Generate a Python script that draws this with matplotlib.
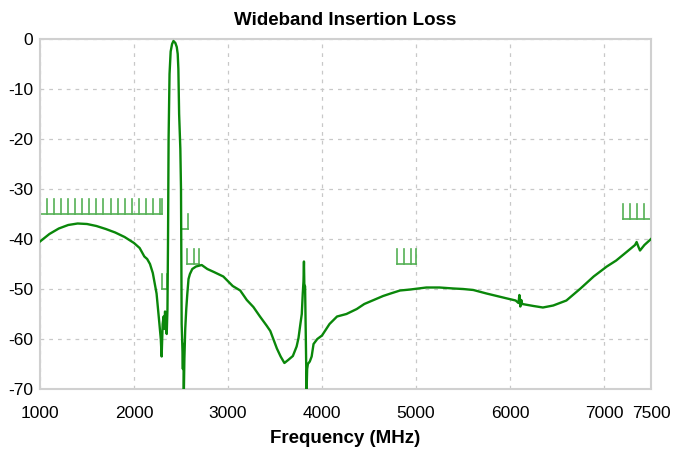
import numpy as np
import matplotlib
matplotlib.use("Agg")
import matplotlib.pyplot as plt

plt.rcParams['font.family'] = ['Liberation Sans', 'DejaVu Sans']
plt.rcParams['axes.unicode_minus'] = False

# измеренная кривая (МГц, дБ)
freq = [1000, 1100, 1200, 1300, 1400, 1500, 1600, 1700, 1800, 1900,
        2000, 2060, 2110, 2140, 2170, 2200, 2240, 2270, 2285, 2294,
        2305, 2315, 2322, 2330, 2340, 2348, 2356, 2362, 2368, 2378,
        2390, 2405, 2420, 2440, 2455, 2465, 2472, 2480, 2493, 2500,
        2507, 2515, 2520, 2525, 2530, 2536, 2545, 2556, 2567, 2580,
        2595, 2620, 2660, 2720, 2780, 2850, 2950, 3050, 3130, 3200,
        3270, 3340, 3410, 3450, 3520, 3560, 3600, 3640, 3690, 3730,
        3750, 3770, 3785, 3795, 3803, 3808, 3812, 3820, 3828, 3836,
        3842, 3850, 3870, 3890, 3910, 3950, 4000, 4080, 4160, 4260,
        4370, 4450, 4550, 4650, 4730, 4830, 4940, 5110, 5250, 5400,
        5500, 5610, 5750, 5860, 5970, 6060, 6090, 6100, 6110, 6120,
        6130, 6250, 6350, 6460, 6600, 6750, 6890, 7030, 7130, 7240,
        7330, 7347, 7365, 7383, 7430, 7500]
loss = [-40.5, -39.0, -37.9, -37.2, -36.9, -37.0, -37.4, -38.0, -38.7, -39.6,
        -40.8, -41.8, -43.5, -44.0, -45.0, -46.8, -50.9, -56.9, -60.0, -63.5,
        -57.0, -55.5, -58.0, -54.5, -56.0, -59.0, -54.0, -40.0, -20.0, -7.0,
        -2.5, -1.0, -0.4, -0.8, -1.6, -3.0, -6.0, -15.0, -22.0, -30.0,
        -57.0, -62.0, -66.0, -61.0, -71.0, -64.0, -58.0, -54.0, -51.0, -48.0,
        -47.0, -46.0, -45.5, -45.2, -46.0, -46.6, -47.5, -49.4, -50.3, -52.2,
        -53.6, -55.5, -57.3, -58.4, -61.9, -63.5, -64.8, -64.2, -63.4, -61.5,
        -59.8, -57.0, -55.0, -51.0, -48.5, -44.5, -49.0, -49.5, -60.0, -70.5,
        -66.0, -65.0, -64.5, -63.5, -61.0, -60.0, -59.3, -57.0, -55.5, -55.0,
        -54.0, -53.0, -52.2, -51.4, -50.9, -50.3, -50.1, -49.7, -49.7, -49.9,
        -50.0, -50.2, -50.9, -51.4, -51.9, -52.3, -52.8, -51.2, -53.5, -52.2,
        -53.0, -53.4, -53.7, -53.3, -52.3, -49.9, -47.5, -45.5, -44.3, -42.6,
        -41.2, -40.6, -41.5, -42.3, -41.2, -40.0]

# маски: начало, конец, уровень
mask_start = [1000, 2300, 2500, 2560, 4800, 7200]
mask_stop = [2300, 2350, 2570, 2690, 5000, 7500]
mask_level = [-35, -50, -38, -45, -45, -36]
mask_step = 75
mask_tick = 3

xticks = [1000, 2000, 3000, 4000, 5000, 6000, 7000, 7500]
yticks = [0, -10, -20, -30, -40, -50, -60, -70]

fig = plt.figure(figsize=(6.74, 4.54), dpi=100)
ax = fig.add_axes([40 / 674, 1 - 389 / 454, 611 / 674, 350 / 454])

ax.grid(True, color='#c8c8c8', linestyle=(0, (3, 4)), linewidth=0.9)
ax.set_axisbelow(True)

mask_color = '#55b055'
for s, e, lv in zip(mask_start, mask_stop, mask_level):
    ax.plot([s, e], [lv, lv], color=mask_color, lw=1.2, zorder=2)
    ticks = list(np.arange(s, e, mask_step)) + [e]
    for t in ticks:
        ax.plot([t, t], [lv, lv + mask_tick], color=mask_color, lw=1.2, zorder=2)

ax.plot(freq, loss, color='#0a870a', lw=1.7, zorder=3)

ax.set_xlim(1000, 7500)
ax.set_ylim(-70, 0)
ax.set_xticks(xticks)
ax.set_yticks(yticks)
ax.tick_params(length=0, labelsize=12.5)
ax.tick_params(axis='x', pad=12)
ax.tick_params(axis='y', pad=5)
for sp in ax.spines.values():
    sp.set_color('#d0d0d0')
    sp.set_linewidth(1.5)

ax.set_title('Wideband Insertion Loss', fontsize=13.5, fontweight='bold', pad=10)
ax.set_xlabel('Frequency (MHz)', fontsize=13.5, fontweight='bold', labelpad=7)

fig.savefig('out.png', dpi=100)
